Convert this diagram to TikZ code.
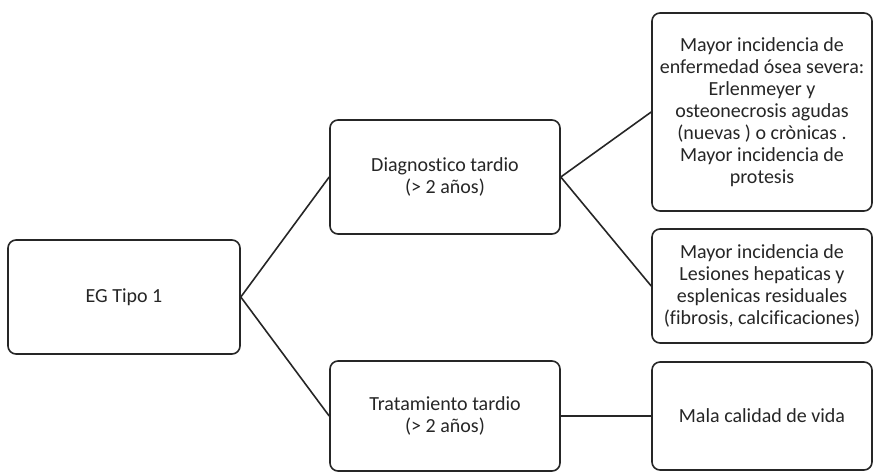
\documentclass[tikz,border=0pt]{standalone}
\usepackage{fontspec}
\setmainfont[Ligatures={NoCommon}]{Carlito}
\begin{document}
\begin{tikzpicture}[x=1pt,y=-1pt,
  box/.style={draw=black!85, line width=1.6pt, rounded corners=8pt, fill=white,
    align=center, text=black!85, inner sep=2pt,
    font=\fontsize{20}{22}\selectfont},
  link/.style={draw=black!85, line width=1.6pt}]
  \useasboundingbox (0,0) rectangle (874,472);
  % boxes placed by centre, sized to the layout grid
  \node[box, minimum width=232pt, minimum height=114pt] (eg)   at (124,297) {EG Tipo 1};
  \node[box, minimum width=230pt, minimum height=114pt] (diag) at (445,177) {Diagnostico tardio\\(> 2 años)};
  \node[box, minimum width=230pt, minimum height=110pt] (trat) at (445,416) {Tratamiento tardio\\(> 2 años)};
  \node[box, minimum width=220pt, minimum height=198pt] (osea) at (762,112) {Mayor incidencia de\\enfermedad ósea severa:\\Erlenmeyer y\\osteonecrosis agudas\\(nuevas ) o crònicas .\\Mayor incidencia de\\protesis};
  \node[box, minimum width=220pt, minimum height=114pt] (hep)  at (762,286) {Mayor incidencia de\\Lesiones hepaticas y\\esplenicas residuales\\(fibrosis, calcificaciones)};
  \node[box, minimum width=220pt, minimum height=108pt] (vida) at (762,416) {Mala calidad de vida};
  % connectors
  \draw[link] (eg.east) -- (diag.west);
  \draw[link] (eg.east) -- (trat.west);
  \draw[link] (diag.east) -- (osea.west);
  \draw[link] (diag.east) -- (hep.west);
  \draw[link] (trat.east) -- (vida.west);
\end{tikzpicture}
\end{document}
